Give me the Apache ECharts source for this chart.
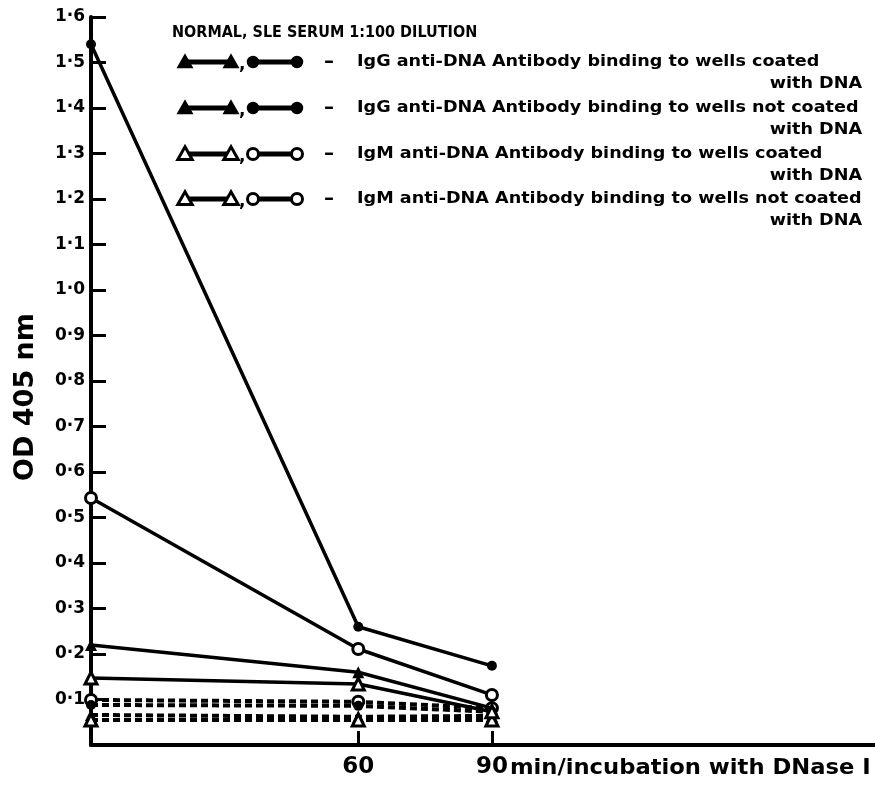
<!DOCTYPE html>
<html>
<head>
<meta charset="utf-8">
<script src="https://cdn.jsdelivr.net/npm/echarts@6/dist/echarts.min.js"></script>
<style>
  html, body { margin: 0; padding: 0; background: #fff; }
  #chart { width: 875px; height: 787px; }
</style>
</head>
<body>
<div id="chart"></div>
<script>
// Incubation time with DNase I (minutes)
const minutes = [0, 60, 90];

// OD 405 nm readings, 1:100 serum dilution
const igGCoatedSLE      = [1.54, 0.26, 0.174];
const igMCoatedSLE      = [0.543, 0.211, 0.11];
const igGCoatedNormal   = [0.22, 0.16, 0.081];
const igMCoatedNormal   = [0.147, 0.134, 0.073];
const igMUncoatedSLE    = [0.099, 0.095, 0.081];
const igGUncoatedSLE    = [0.088, 0.086, 0.073];
const igGUncoatedNormal = [0.066, 0.062, 0.064];
const igMUncoatedNormal = [0.055, 0.055, 0.055];

const yTicks = [0.1, 0.2, 0.3, 0.4, 0.5, 0.6, 0.7, 0.8, 0.9, 1.0, 1.1, 1.2, 1.3, 1.4, 1.5, 1.6];
const xTicks = [60, 90];

const titleText = 'NORMAL, SLE SERUM 1:100 DILUTION';
const legendRows = [
  { text: 'IgG anti-DNA Antibody binding to wells coated', open: false },
  { text: 'IgG anti-DNA Antibody binding to wells not coated', open: false },
  { text: 'IgM anti-DNA Antibody binding to wells coated', open: true },
  { text: 'IgM anti-DNA Antibody binding to wells not coated', open: true }
];
const legendTail = 'with DNA';
const yName = 'OD 405 nm';
const xName = 'min/incubation with DNase I';

const FONT = 'DejaVu Sans';
const INK = '#000';

function pairs(vals) {
  return minutes.map((m, i) => [m, vals[i]]);
}

function makeSeries(name, vals, symbol, open, dashed) {
  return {
    name: name,
    type: 'line',
    data: pairs(vals),
    symbol: symbol,
    symbolSize: symbol === 'triangle' ? 12 : (open ? 11 : 10),
    showSymbol: true,
    lineStyle: { color: INK, width: dashed ? 4 : 3.5, type: dashed ? [7, 4] : 'solid' },
    itemStyle: {
      color: open ? '#fff' : INK,
      borderColor: INK,
      borderWidth: open ? 3 : 0
    },
    z: dashed ? 2 : 3
  };
}

const chart = echarts.init(document.getElementById('chart'), null, { renderer: 'canvas' });

const option = {
  backgroundColor: '#fff',
  animation: false,
  grid: { left: 91, right: 0, top: 17, bottom: 42, containLabel: false },
  xAxis: {
    type: 'value',
    min: 0,
    max: 176,
    axisLine: { show: true, lineStyle: { color: INK, width: 4 } },
    axisTick: { show: true, inside: true, length: 14, lineStyle: { color: INK, width: 3 }, customValues: xTicks },
    axisLabel: {
      show: true, customValues: xTicks, margin: 11,
      color: INK, fontFamily: FONT, fontWeight: 'bold', fontSize: 23
    },
    splitLine: { show: false }
  },
  yAxis: {
    type: 'value',
    min: 0,
    max: 1.6,
    interval: 0.1,
    axisLine: { show: true, lineStyle: { color: INK, width: 4 } },
    axisTick: { show: true, inside: true, length: 15, lineStyle: { color: INK, width: 3 }, customValues: yTicks },
    axisLabel: {
      show: true, customValues: yTicks, margin: 6,
      color: INK, fontFamily: FONT, fontWeight: 'bold', fontSize: 17,
      formatter: v => v.toFixed(1).replace('.', '·')
    },
    splitLine: { show: false }
  },
  series: [
    makeSeries('IgG coated SLE', igGCoatedSLE, 'circle', false, false),
    makeSeries('IgM coated SLE', igMCoatedSLE, 'circle', true, false),
    makeSeries('IgG coated normal', igGCoatedNormal, 'triangle', false, false),
    makeSeries('IgM coated normal', igMCoatedNormal, 'triangle', true, false),
    makeSeries('IgM not coated SLE', igMUncoatedSLE, 'circle', true, true),
    makeSeries('IgG not coated SLE', igGUncoatedSLE, 'circle', false, true),
    makeSeries('IgG not coated normal', igGUncoatedNormal, 'triangle', false, true),
    makeSeries('IgM not coated normal', igMUncoatedNormal, 'triangle', true, true)
  ]
};

chart.setOption(option);

// Legend keys and captions drawn as graphic elements
function triangle(cx, cy, s, open) {
  return {
    type: 'polygon',
    shape: { points: [[cx, cy - s * 0.6], [cx + s * 0.6, cy + s * 0.45], [cx - s * 0.6, cy + s * 0.45]] },
    style: { fill: open ? '#fff' : INK, stroke: INK, lineWidth: open ? 3 : 1.5 },
    z: 10
  };
}
function dot(cx, cy, r, open) {
  return {
    type: 'circle',
    shape: { cx: cx, cy: cy, r: r },
    style: { fill: open ? '#fff' : INK, stroke: INK, lineWidth: open ? 3 : 1.5 },
    z: 10
  };
}
function seg(x1, x2, y) {
  return { type: 'line', shape: { x1: x1, y1: y, x2: x2, y2: y }, style: { stroke: INK, lineWidth: 5 }, z: 9 };
}
function label(text, x, y, size, align, sx) {
  return {
    type: 'text', x: x, y: y, z: 10, scaleX: sx || 1,
    style: {
      text: text, fill: INK, font: 'bold ' + size + 'px "' + FONT + '"',
      align: align || 'left', verticalAlign: 'middle'
    }
  };
}

const rowY = [62, 108, 154, 199];
const elements = [label(titleText, 172, 33, 15, 'left', 0.96)];
legendRows.forEach((row, i) => {
  const y = rowY[i];
  elements.push(seg(185, 231, y), triangle(185, y, 12, row.open), triangle(231, y, 12, row.open));
  elements.push(label(',', 239, y + 3, 17));
  elements.push(seg(253, 297, y), dot(253, y, 5.5, row.open), dot(297, y, 5.5, row.open));
  elements.push(label('–', 324, y, 20));
  elements.push(label(row.text, 357, y, 16, 'left', 1.1));
  elements.push(label(legendTail, 862, y + 22, 16, 'right', 1.1));
});

// Axis titles
elements.push({
  type: 'text', x: 26, y: 397, rotation: Math.PI / 2, z: 10,
  style: {
    text: yName, fill: INK, font: 'bold 27px "' + FONT + '"',
    align: 'center', verticalAlign: 'middle'
  }
});
const p90 = chart.convertToPixel({ xAxisIndex: 0, yAxisIndex: 0 }, [90, 0]);
elements.push(label(xName, p90[0] + 18, p90[1] + 23, 22, 'left', 1.03));

chart.setOption({ graphic: { elements: elements } });
</script>
</body>
</html>
